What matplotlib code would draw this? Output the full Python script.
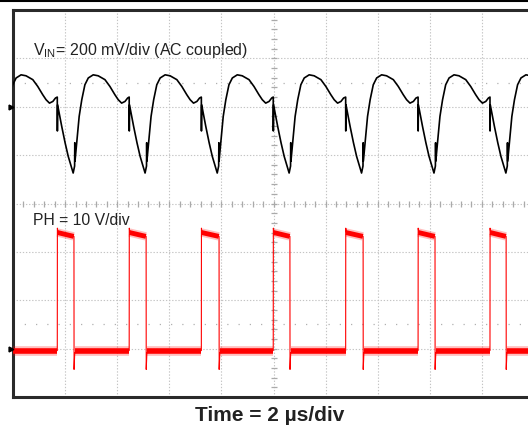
import numpy as np
import matplotlib.pyplot as plt
from matplotlib.lines import Line2D

# PH switching edges (us)
PH_RISE_US = [1.70, 4.46, 7.23, 9.99, 12.77, 15.55, 18.31]
PH_FALL_US = [2.34, 5.11, 7.91, 10.63, 13.44, 16.20, 18.93]
PH_LOW_V = -0.4
PH_HIGH_START_V = 24.0
PH_HIGH_END_V = 23.2
PH_OVERSHOOT_V = 24.9
PH_UNDERSHOOT_V = -4.3
PH_AFTER_FALL_V = -0.9

# VIN ripple, one switching cycle starting at the PH rising edge (us, mV)
VIN_CYCLE_DT_US = [0.000, 0.004, 0.012, 0.17, 0.30, 0.42, 0.55, 0.61, 0.665, 0.672,
                   0.680, 0.745, 0.84, 0.94, 1.06, 1.19, 1.38, 1.57, 1.83, 2.02,
                   2.21, 2.34, 2.47, 2.60, 2.70]
VIN_CYCLE_MV = [40, -100, 8, -81, -149, -205, -253, -274, -245, -149,
                -225, -149, -40, 29, 91, 119, 132, 128, 112, 84,
                50, 29, 15, 22, 36]
VIN_CYCLE_STARTS_US = [-1.07] + PH_RISE_US

T_DIV_US = 2.0
CH1_MV_DIV = 200
CH2_V_DIV = 10
CH1_POS_DIV = 6
CH2_POS_DIV = 1

GRID_COLOR = '#c4c4c4'
TEXT_COLOR = '#222222'

plt.rcParams['font.family'] = ['Liberation Sans', 'DejaVu Sans']

fig = plt.figure(figsize=(5.28, 4.26), dpi=100)
ax = fig.add_axes([13 / 528, 29 / 426, 521 / 528, 387 / 426])

# CH1 axis in mV, 8 divisions
ax.set_xlim(0, 10 * T_DIV_US)
ax.set_ylim(-CH1_POS_DIV * CH1_MV_DIV, (8 - CH1_POS_DIV) * CH1_MV_DIV)
ax.set_xticks(np.arange(0, 10 * T_DIV_US + 0.1, T_DIV_US))
ax.set_yticks(np.arange(-CH1_POS_DIV * CH1_MV_DIV, (8 - CH1_POS_DIV) * CH1_MV_DIV + 1, CH1_MV_DIV))
ax.tick_params(length=0, labelbottom=False, labelleft=False)
ax.grid(True, color=GRID_COLOR, linestyle=(0, (1.2, 1.6)), linewidth=0.8)

# center graticule with small ticks
yc = -CH1_POS_DIV * CH1_MV_DIV + 4 * CH1_MV_DIV
xc = 5 * T_DIV_US
ax.plot(np.arange(0, 20.01, 0.4), [yc] * 51, '|', color='#aaaaaa', ms=4, mew=0.9)
ax.plot([xc] * 41, np.arange(-1200, 401, 40), '_', color='#aaaaaa', ms=4, mew=0.9)

# sparse dotted reference rows
for lvl in [0.5 * CH1_MV_DIV, -CH1_POS_DIV * CH1_MV_DIV + 1.5 * CH1_MV_DIV]:
    ax.axhline(lvl, color='#b0b0b0', linestyle=(0, (1, 8)), linewidth=0.9)

for s in ['left', 'top', 'bottom']:
    ax.spines[s].set_linewidth(2.2)
    ax.spines[s].set_color('#2a2a2a')
ax.spines['right'].set_visible(False)

# VIN trace
vin_t, vin_v = [], []
for t0 in VIN_CYCLE_STARTS_US:
    vin_t += [t0 + d for d in VIN_CYCLE_DT_US]
    vin_v += VIN_CYCLE_MV
ax.plot(vin_t, vin_v, color='black', linewidth=1.2, zorder=5)

# PH trace on its own scale (V)
ax2 = ax.twinx()
ax2.set_ylim(-CH2_POS_DIV * CH2_V_DIV, (8 - CH2_POS_DIV) * CH2_V_DIV)
ax2.axis('off')

ph_t, ph_v = [0.0], [PH_LOW_V]
for r, f in zip(PH_RISE_US, PH_FALL_US):
    ph_t += [r, r + 0.004, r + 0.03, f - 0.01, f, f + 0.004, f + 0.03, f + 0.2]
    ph_v += [PH_LOW_V, PH_OVERSHOOT_V, PH_HIGH_START_V, PH_HIGH_END_V, PH_HIGH_END_V,
             PH_UNDERSHOOT_V, PH_AFTER_FALL_V, PH_LOW_V]
ph_t.append(20.0)
ph_v.append(PH_LOW_V)
ax2.plot(ph_t, ph_v, color='red', linewidth=0.8, zorder=4)

# noise band on the flat parts
lows_start = [0.0] + [f + 0.03 for f in PH_FALL_US]
lows_end = PH_RISE_US + [20.0]
for a, b in zip(lows_start, lows_end):
    ax2.plot([a, b], [PH_LOW_V, PH_LOW_V], color='red', linewidth=7, alpha=0.25,
             solid_capstyle='butt')
    ax2.plot([a, b], [PH_LOW_V, PH_LOW_V], color='red', linewidth=4,
             solid_capstyle='butt')
for r, f in zip(PH_RISE_US, PH_FALL_US):
    ax2.plot([r + 0.01, f - 0.01], [PH_HIGH_START_V, PH_HIGH_END_V], color='red',
             linewidth=6, alpha=0.25, solid_capstyle='butt')
    ax2.plot([r + 0.01, f - 0.01], [PH_HIGH_START_V, PH_HIGH_END_V], color='red',
             linewidth=3.5, solid_capstyle='butt')

# channel ground markers
ax.plot([-0.08], [0], '>', color='black', ms=3.5, clip_on=False, zorder=6)
ax2.plot([-0.08], [0], '>', color='black', ms=3.5, clip_on=False, zorder=6)

# labels
fig.text(33 / 528, 1 - 55 / 426, r'V$_{\mathregular{IN}}$= 200 mV/div (AC coupled)',
         fontsize=11.5, color=TEXT_COLOR, va='baseline', ha='left')
fig.text(33 / 528, 1 - 225 / 426, 'PH = 10 V/div', fontsize=11.3, color=TEXT_COLOR,
         va='baseline', ha='left')
fig.text(270 / 528, 1 - 421 / 426, 'Time = 2 \u00b5s/div', fontsize=15,
         fontweight='bold', color=TEXT_COLOR, va='baseline', ha='center')

# thin rule at the very top of the picture
fig.add_artist(Line2D([0, 1], [0.998, 0.998], color='black', linewidth=1.5))

fig.savefig('out.png', dpi=100)
